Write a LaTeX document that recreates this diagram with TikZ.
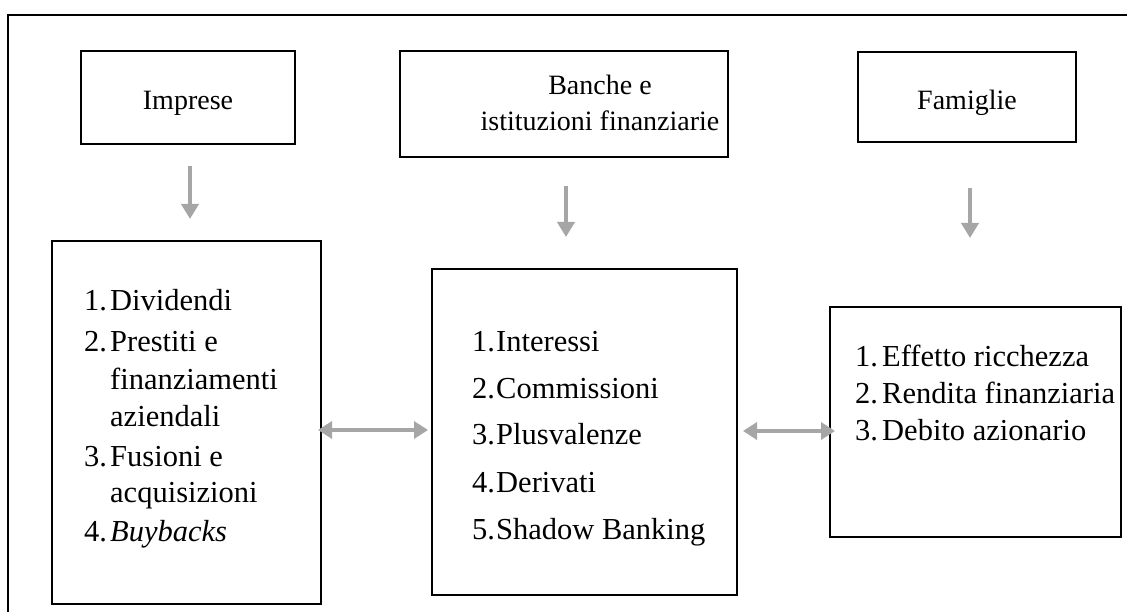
\documentclass[tikz,border=0pt]{standalone}
\usepackage{fontspec}
\setmainfont{Liberation Serif}
\usetikzlibrary{arrows.meta}
\definecolor{arrowgray}{HTML}{A6A6A6}
\begin{document}
\begin{tikzpicture}[x=1pt,y=-1pt,
  box/.style={draw=black,line width=2.4pt,inner sep=0pt,fill=white},
  lbl/.style={font=\fontsize{28}{33}\selectfont,anchor=base,inner sep=0pt},
  num/.style={font=\fontsize{30.5}{36}\selectfont,anchor=base west,inner sep=0pt},
  itm/.style={font=\fontsize{30.5}{36}\selectfont,anchor=base west,inner sep=0pt},
  garrow/.style={draw=arrowgray,line width=4pt,-{Triangle[length=15pt,width=17pt]}},
  darrow/.style={draw=arrowgray,line width=4pt,{Triangle[length=14pt,width=17pt]}-{Triangle[length=14pt,width=17pt]}},
  frame/.style={draw=black,line width=2pt}]
\useasboundingbox (0,0) rectangle (1127,612);
% outer frame
\coordinate (ftl) at (8,15);
\coordinate (ftr) at (1127,15);
\coordinate (fbl) at (8,612);
\draw[frame] (ftr) -- (ftl) -- (fbl);
% top boxes
\node[box,minimum width=214pt,minimum height=93pt] (imp) at (188,97.5) {};
\node[box,minimum width=328pt,minimum height=106pt] (ban) at (564,104) {};
\node[box,minimum width=218pt,minimum height=90pt] (fam) at (967,97) {};
\node[lbl] (timp) at (188,110) {Imprese};
\node[lbl] (tban1) at (600,95) {Banche e};
\node[lbl] (tban2) at (600,131) {istituzioni finanziarie};
\node[lbl] (tfam) at (967,110) {Famiglie};
% lower boxes
\node[box,minimum width=269pt,minimum height=363pt] (b1) at (186.5,422.5) {};
\node[box,minimum width=305pt,minimum height=326pt] (b2) at (584.5,432) {};
\node[box,minimum width=291pt,minimum height=230pt] (b3) at (975.5,422) {};
% down arrows
\coordinate (a1s) at (190,166);
\coordinate (a1e) at (190,219);
\coordinate (a2s) at (566,186);
\coordinate (a2e) at (566,237);
\coordinate (a3s) at (970,188);
\coordinate (a3e) at (970,238);
\draw[garrow] (a1s) -- (a1e);
\draw[garrow] (a2s) -- (a2e);
\draw[garrow] (a3s) -- (a3e);
% double arrows
\coordinate (d1s) at (318,430);
\coordinate (d1e) at (428,430);
\coordinate (d2s) at (743,431);
\coordinate (d2e) at (835,431);
\draw[darrow] (d1s) -- (d1e);
\draw[darrow] (d2s) -- (d2e);
% box 1 list
\node[num] (n11) at (84,310) {1.};
\node[itm] (i11) at (110,310) {Dividendi};
\node[num] (n12) at (84,352) {2.};
\node[itm] (i12) at (110,352) {Prestiti e};
\node[itm] (i12b) at (110,389) {finanziamenti};
\node[itm] (i12c) at (110,426) {aziendali};
\node[num] (n13) at (84,466) {3.};
\node[itm] (i13) at (110,466) {Fusioni e};
\node[itm] (i13b) at (110,502) {acquisizioni};
\node[num] (n14) at (84,541) {4.};
\node[itm] (i14) at (110,541) {\itshape Buybacks};
% box 2 list
\node[num] (n21) at (472,352) {1.};
\node[itm] (i21) at (496,352) {Interessi};
\node[num] (n22) at (472,398) {2.};
\node[itm] (i22) at (496,398) {Commissioni};
\node[num] (n23) at (472,444) {3.};
\node[itm] (i23) at (496,444) {Plusvalenze};
\node[num] (n24) at (472,492) {4.};
\node[itm] (i24) at (496,492) {Derivati};
\node[num] (n25) at (472,539) {5.};
\node[itm] (i25) at (496,539) {Shadow Banking};
% box 3 list
\node[num] (n31) at (855,366) {1.};
\node[itm] (i31) at (882,366) {Effetto ricchezza};
\node[num] (n32) at (855,403) {2.};
\node[itm] (i32) at (882,403) {Rendita finanziaria};
\node[num] (n33) at (855,440) {3.};
\node[itm] (i33) at (882,440) {Debito azionario};
\end{tikzpicture}
\end{document}
